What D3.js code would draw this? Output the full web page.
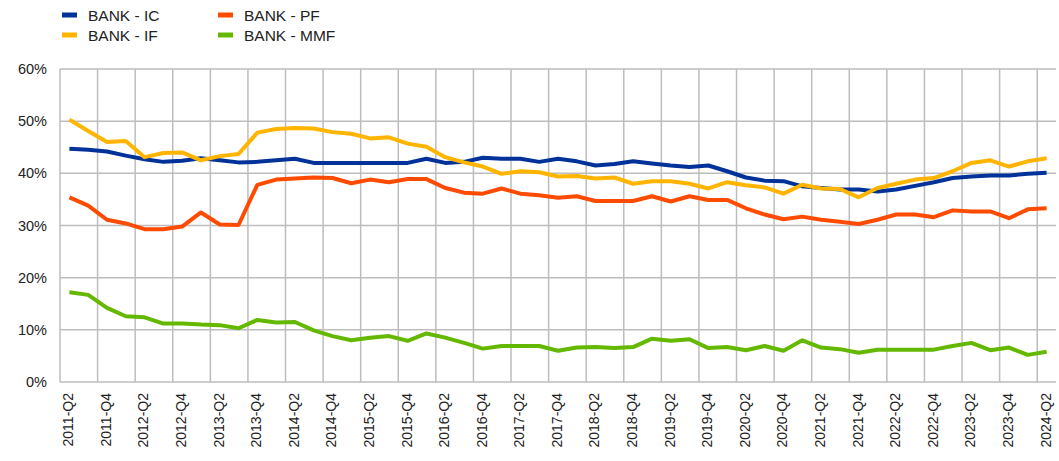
<!DOCTYPE html>
<html>
<head>
<meta charset="utf-8">
<script src="https://cdn.jsdelivr.net/npm/d3@7"></script>
<style>
  body { margin: 0; background: #fff; }
  text { font-family: Arial, "Liberation Sans", sans-serif; fill: #222; }
</style>
</head>
<body>
<script>
// Quarters from 2011-Q2 to 2024-Q2
var quarters = [];
for (var yr = 2011; yr <= 2024; yr++) {
  for (var q = 1; q <= 4; q++) {
    if ((yr === 2011 && q < 2) || (yr === 2024 && q > 2)) continue;
    quarters.push(yr + "-Q" + q);
  }
}

// Series values (percent)
var bankIC = [44.7, 44.5, 44.2, 43.4, 42.7, 42.2, 42.4, 42.9, 42.5, 42.1,
  42.2, 42.5, 42.8, 42.0, 42.0, 42.0, 42.0, 42.0, 42.0, 42.8,
  42.0, 42.2, 43.0, 42.8, 42.8, 42.2, 42.8, 42.3, 41.5, 41.8,
  42.3, 41.9, 41.5, 41.2, 41.5, 40.4, 39.2, 38.6, 38.5, 37.5,
  37.2, 36.9, 36.9, 36.5, 36.9, 37.6, 38.3, 39.1, 39.4, 39.6,
  39.6, 39.9, 40.1];
var bankIF = [50.3, 48.1, 46.0, 46.2, 43.1, 43.9, 44.0, 42.5, 43.3, 43.7,
  47.8, 48.5, 48.7, 48.6, 47.9, 47.6, 46.7, 46.9, 45.7, 45.1,
  43.1, 42.1, 41.3, 39.9, 40.4, 40.2, 39.4, 39.5, 39.0, 39.2,
  38.0, 38.5, 38.5, 38.0, 37.1, 38.3, 37.7, 37.3, 36.1, 37.8,
  37.1, 37.0, 35.4, 37.2, 38.0, 38.8, 39.1, 40.4, 42.0, 42.5,
  41.3, 42.3, 42.9];
var bankPF = [35.4, 33.8, 31.1, 30.4, 29.3, 29.3, 29.8, 32.5, 30.2, 30.1,
  37.8, 38.8, 39.0, 39.2, 39.1, 38.1, 38.8, 38.3, 38.9, 38.9,
  37.2, 36.3, 36.1, 37.1, 36.1, 35.8, 35.3, 35.6, 34.7, 34.7,
  34.7, 35.6, 34.6, 35.6, 34.9, 34.9, 33.3, 32.1, 31.2, 31.7,
  31.1, 30.7, 30.3, 31.1, 32.1, 32.1, 31.6, 32.9, 32.7, 32.7,
  31.4, 33.1, 33.3];
var bankMMF = [17.2, 16.7, 14.2, 12.6, 12.4, 11.2, 11.2, 11.0, 10.9, 10.3,
  11.9, 11.4, 11.5, 9.9, 8.8, 8.0, 8.5, 8.8, 7.9, 9.3,
  8.5, 7.5, 6.4, 6.9, 6.9, 6.9, 6.0, 6.6, 6.7, 6.5,
  6.7, 8.3, 7.9, 8.2, 6.5, 6.7, 6.1, 6.9, 6.0, 8.0,
  6.6, 6.3, 5.6, 6.2, 6.2, 6.2, 6.2, 6.9, 7.5, 6.1,
  6.6, 5.2, 5.8];

var yTicks = [0, 10, 20, 30, 40, 50, 60];

var series = [
  { name: "BANK - IC", values: bankIC, color: "#003299" },
  { name: "BANK - IF", values: bankIF, color: "#FFB400" },
  { name: "BANK - PF", values: bankPF, color: "#FF4B00" },
  { name: "BANK - MMF", values: bankMMF, color: "#65B800" }
];

var svgWidth = 1059;
var svgHeight = 461;
var margin = { top: 69, right: 3, bottom: 79, left: 60 };
var chartWidth = svgWidth - margin.left - margin.right;
var chartHeight = svgHeight - margin.top - margin.bottom;

var svg = d3.select("body").append("svg")
  .attr("width", svgWidth)
  .attr("height", svgHeight);

var chartGroup = svg.append("g")
  .attr("transform", `translate(${margin.left}, ${margin.top})`);

var xBand = d3.scaleBand()
  .domain(quarters)
  .range([0, chartWidth]);

var yScale = d3.scaleLinear()
  .domain([0, 60])
  .range([chartHeight, 0]);

// horizontal grid
chartGroup.selectAll(".hgrid")
  .data(yTicks)
  .enter().append("line")
  .attr("x1", 0).attr("x2", chartWidth)
  .attr("y1", d => yScale(d)).attr("y2", d => yScale(d))
  .attr("stroke", "#bdbdbd").attr("stroke-width", 1.5);

// vertical grid at band edges every two quarters
var edgeQuarters = quarters.filter((d, i) => i % 2 === 0);
chartGroup.selectAll(".vgrid")
  .data(edgeQuarters)
  .enter().append("line")
  .attr("x1", d => xBand(d)).attr("x2", d => xBand(d))
  .attr("y1", 0).attr("y2", chartHeight)
  .attr("stroke", "#bdbdbd").attr("stroke-width", 1.5);

// y axis labels
var leftAxis = d3.axisLeft(yScale).tickValues(yTicks).tickSize(0).tickPadding(13)
  .tickFormat(d => d + "%");
chartGroup.append("g")
  .call(leftAxis)
  .call(g => g.select(".domain").remove())
  .selectAll("text")
  .style("font-size", "14.5px");

// x axis labels
var bottomAxis = d3.axisBottom(xBand).tickValues(edgeQuarters).tickSize(0);
chartGroup.append("g")
  .attr("transform", "translate(0, " + chartHeight + ")")
  .call(bottomAxis)
  .call(g => g.select(".domain").remove())
  .selectAll("text")
  .attr("transform", "rotate(-90)")
  .attr("x", -11)
  .attr("y", -1)
  .attr("dy", "0.35em")
  .style("text-anchor", "end")
  .style("font-size", "14px");

var drawLine = d3.line()
  .x((d, i) => xBand(quarters[i]) + xBand.bandwidth() / 2)
  .y(d => yScale(d));

// draw IC first? order: MMF, PF, IC, IF so yellow sits on top of blue
[series[3], series[2], series[0], series[1]].forEach(function(s) {
  chartGroup.append("path")
    .attr("d", drawLine(s.values))
    .attr("fill", "none")
    .attr("stroke", s.color)
    .attr("stroke-width", 4)
    .attr("stroke-linejoin", "round");
});

// legend
var legendPos = [[62, 15], [62, 35], [218, 15], [218, 35]];
var legend = svg.selectAll(".legend")
  .data(series)
  .enter().append("g")
  .attr("transform", (d, i) => `translate(${legendPos[i][0]}, ${legendPos[i][1]})`);

legend.append("line")
  .attr("x1", 0).attr("x2", 15)
  .attr("stroke", d => d.color)
  .attr("stroke-width", 5);

legend.append("text")
  .attr("x", 26)
  .attr("dy", "0.36em")
  .style("font-size", "15.5px")
  .text(d => d.name);
</script>
</body>
</html>
